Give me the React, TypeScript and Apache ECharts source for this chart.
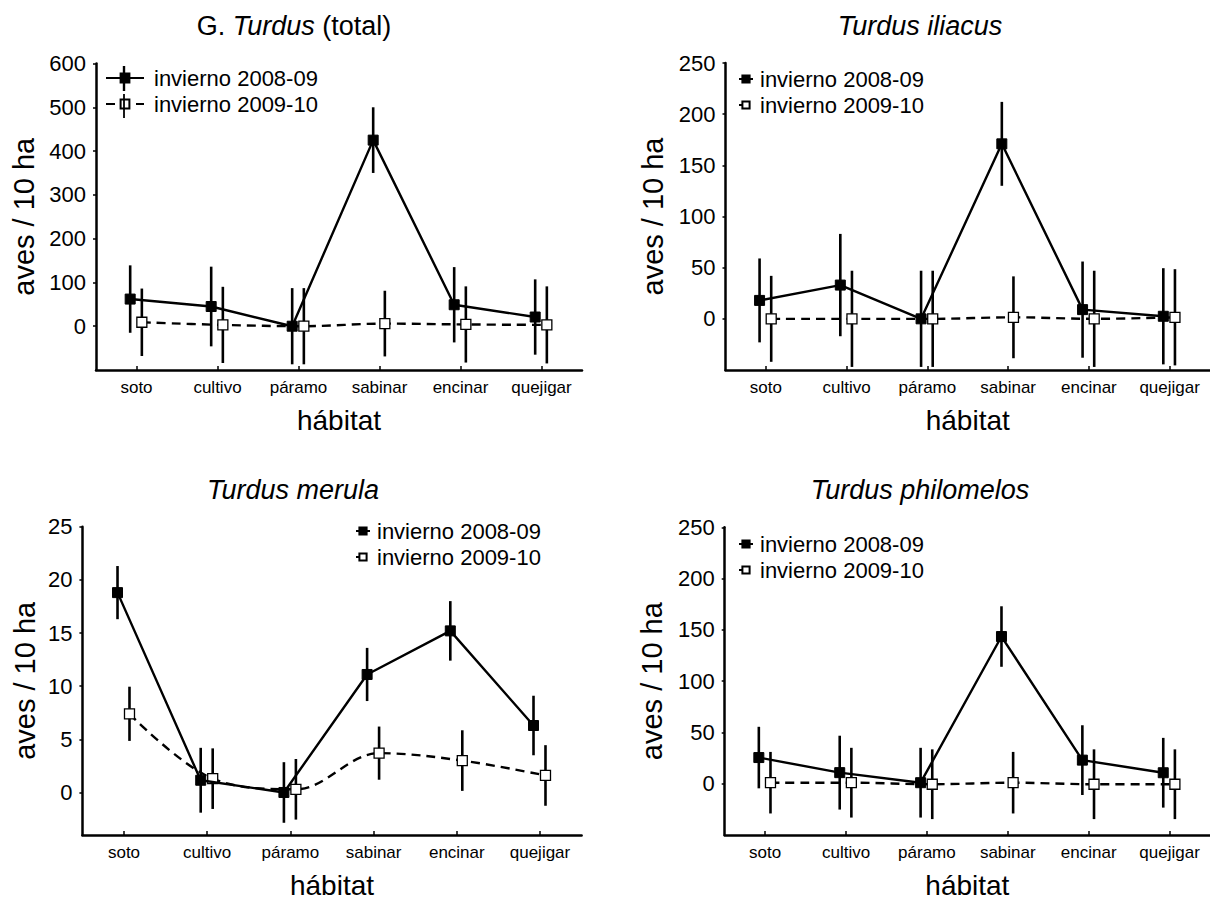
import React, { useEffect, useRef } from "react";
import * as echarts from "echarts";

const CATEGORIES = ["soto", "cultivo", "páramo", "sabinar", "encinar", "quejigar"];
const SERIES_NAMES = ["invierno 2008-09", "invierno 2009-10"];

// G. Turdus (total)
const TOTAL_0809 = [62, 45, 0, 425, 49, 21];
const TOTAL_0809_ERR = [77, 91, 87, 75, 86, 86];
const TOTAL_0910 = [9, 3, 0, 6, 4, 3];
const TOTAL_0910_ERR = [77, 87, 87, 75, 87, 88];

// Turdus iliacus
const ILIACUS_0809 = [18, 33, 0, 171, 9, 2.5];
const ILIACUS_0809_ERR = [41, 50, 47, 41, 47, 47];
const ILIACUS_0910 = [0, 0, 0, 1.5, 0, 1.5];
const ILIACUS_0910_ERR = [42, 47, 47, 40, 47, 47];

// Turdus merula
const MERULA_0809 = [18.8, 1.15, 0, 11.1, 15.2, 6.3];
const MERULA_0809_ERR = [2.5, 3.05, 2.85, 2.5, 2.8, 2.8];
const MERULA_0910 = [7.4, 1.3, 0.3, 3.7, 3.0, 1.6];
const MERULA_0910_ERR = [2.55, 2.85, 2.85, 2.5, 2.85, 2.85];

// Turdus philomelos
const PHILO_0809 = [25.5, 10.8, 1, 143.5, 23, 10.7];
const PHILO_0809_ERR = [30, 36, 34, 29.5, 34, 34];
const PHILO_0910 = [1, 1, -0.5, 1, -0.5, -0.5];
const PHILO_0910_ERR = [30, 34, 34, 30, 34, 34];

const TICKS_TOTAL = [0, 100, 200, 300, 400, 500, 600];
const TICKS_250 = [0, 50, 100, 150, 200, 250];
const TICKS_MERULA = [0, 5, 10, 15, 20, 25];

const FONT = "'Liberation Sans', Arial, Helvetica, sans-serif";

const panels = [
  {
    title: "{a|G. }{b|Turdus}{a| (total)}",
    titleX: 294, titleY: 12,
    grid: { left: 96, top: 63.5, width: 486, height: 306.5 },
    yMin: -100, yMax: 600, ticks: TICKS_TOTAL,
    m1: TOTAL_0809, e1: TOTAL_0809_ERR, m2: TOTAL_0910, e2: TOTAL_0910_ERR,
    nameGap: 58,
    legend: { left: 105, top: 67, itemWidth: 38, itemHeight: 11 },
  },
  {
    title: "{b|Turdus iliacus}",
    titleX: 920, titleY: 12,
    grid: { left: 725.5, top: 63, width: 485, height: 307 },
    yMin: -50, yMax: 250, ticks: TICKS_250,
    m1: ILIACUS_0809, e1: ILIACUS_0809_ERR, m2: ILIACUS_0910, e2: ILIACUS_0910_ERR,
    nameGap: 58,
    legend: { left: 738, top: 68, itemWidth: 14, itemHeight: 9 },
  },
  {
    title: "{b|Turdus merula}",
    titleX: 293, titleY: 476,
    grid: { left: 82.4, top: 526.7, width: 499.2, height: 309.3 },
    yMin: -4, yMax: 25, ticks: TICKS_MERULA,
    m1: MERULA_0809, e1: MERULA_0809_ERR, m2: MERULA_0910, e2: MERULA_0910_ERR,
    nameGap: 43,
    legend: { left: 355, top: 520, itemWidth: 14, itemHeight: 9 },
  },
  {
    title: "{b|Turdus philomelos}",
    titleX: 920, titleY: 476,
    grid: { left: 724.7, top: 527.3, width: 485.3, height: 308.4 },
    yMin: -50, yMax: 250, ticks: TICKS_250,
    m1: PHILO_0809, e1: PHILO_0809_ERR, m2: PHILO_0910, e2: PHILO_0910_ERR,
    nameGap: 58,
    legend: { left: 738, top: 533, itemWidth: 14, itemHeight: 9 },
  },
];

const OFF1 = -0.078;
const OFF2 = 0.066;

function errRender(params: any, api: any) {
  const x = api.value(0);
  const lo = api.value(1);
  const hi = api.value(2);
  const p1 = api.coord([x, lo]);
  const p2 = api.coord([x, hi]);
  return {
    type: "line",
    shape: { x1: p1[0], y1: p1[1], x2: p2[0], y2: p2[1] },
    style: { stroke: "#000", lineWidth: 2.6 },
  };
}

function buildOption() {
  const grid: any[] = [];
  const xAxis: any[] = [];
  const yAxis: any[] = [];
  const series: any[] = [];
  const title: any[] = [];
  const legend: any[] = [];

  panels.forEach((p, gi) => {
    grid.push({ ...p.grid, containLabel: false });
    title.push({
      text: p.title,
      left: p.titleX,
      top: p.titleY,
      textAlign: "center",
      padding: 0,
      textStyle: {
        fontFamily: FONT,
        fontSize: 27,
        fontWeight: "normal",
        color: "#000",
        rich: {
          a: { fontFamily: FONT, fontSize: 27, fontStyle: "normal", color: "#000" },
          b: { fontFamily: FONT, fontSize: 27, fontStyle: "italic", color: "#000" },
        },
      },
    });
    xAxis.push({
      type: "category",
      gridIndex: gi,
      data: CATEGORIES,
      boundaryGap: true,
      name: "hábitat",
      nameLocation: "middle",
      nameGap: 36,
      nameTextStyle: { fontFamily: FONT, fontSize: 28, color: "#000" },
      axisLine: { onZero: false, lineStyle: { color: "#000", width: 2.5 } },
      axisTick: { show: true, inside: true, length: 4, alignWithLabel: true, lineStyle: { color: "#000", width: 1.5 } },
      axisLabel: { fontFamily: FONT, fontSize: 17, color: "#000", margin: 9, interval: 0 },
      splitLine: { show: false },
    });
    xAxis.push({
      type: "value",
      gridIndex: gi,
      min: -0.5,
      max: 5.5,
      show: false,
      axisLine: { onZero: false },
    });
    yAxis.push({
      type: "value",
      gridIndex: gi,
      min: p.yMin,
      max: p.yMax,
      name: "aves / 10 ha",
      nameLocation: "middle",
      nameRotate: 90,
      nameGap: p.nameGap,
      nameTextStyle: { fontFamily: FONT, fontSize: 29, color: "#000" },
      axisLine: { show: true, onZero: false, lineStyle: { color: "#000", width: 2.5 } },
      axisTick: { show: true, length: 3, customValues: p.ticks, lineStyle: { color: "#000", width: 1.5 } },
      axisLabel: { fontFamily: FONT, fontSize: 22, color: "#000", margin: 10, customValues: p.ticks },
      splitLine: { show: false },
    });
    const xIdx = gi * 2 + 1;
    const yIdx = gi;
    const err1 = p.m1.map((m, i) => [i + OFF1, m - p.e1[i], m + p.e1[i]]);
    const err2 = p.m2.map((m, i) => [i + OFF2, m - p.e2[i], m + p.e2[i]]);
    series.push({
      type: "custom",
      name: "err-a-" + gi,
      xAxisIndex: xIdx,
      yAxisIndex: yIdx,
      data: err1,
      encode: { x: 0, y: [1, 2] },
      renderItem: errRender,
      z: 2,
      silent: true,
    });
    series.push({
      type: "custom",
      name: "err-b-" + gi,
      xAxisIndex: xIdx,
      yAxisIndex: yIdx,
      data: err2,
      encode: { x: 0, y: [1, 2] },
      renderItem: errRender,
      z: 2,
      silent: true,
    });
    series.push({
      type: "line",
      name: SERIES_NAMES[0],
      xAxisIndex: xIdx,
      yAxisIndex: yIdx,
      data: p.m1.map((m, i) => [i + OFF1, m]),
      symbol: "rect",
      symbolSize: 10,
      showSymbol: true,
      lineStyle: { color: "#000", width: 2.4, type: "solid" },
      itemStyle: { color: "#000", borderColor: "#000", borderWidth: 1 },
      z: 4,
    });
    series.push({
      type: "line",
      name: SERIES_NAMES[1],
      xAxisIndex: xIdx,
      yAxisIndex: yIdx,
      data: p.m2.map((m, i) => [i + OFF2, m]),
      symbol: "rect",
      symbolSize: 10,
      showSymbol: true,
      smooth: 0.35,
      lineStyle: { color: "#000", width: 2.4, type: [9, 6] },
      itemStyle: { color: "#fff", borderColor: "#000", borderWidth: 1.3 },
      z: 3,
    });
    legend.push({
      data: SERIES_NAMES,
      orient: "vertical",
      left: p.legend.left,
      top: p.legend.top,
      itemWidth: p.legend.itemWidth,
      itemHeight: p.legend.itemHeight,
      itemGap: 4,
      padding: 0,
      selectedMode: false,
      textStyle: { fontFamily: FONT, fontSize: 22, color: "#000", padding: [0, 0, 0, gi === 0 ? 5 : 2] },
    });
  });

  const graphic = [
    { type: "line", shape: { x1: 124, y1: 66, x2: 124, y2: 91 }, style: { stroke: "#000", lineWidth: 2.4 }, z: 100 },
    { type: "line", shape: { x1: 124, y1: 94, x2: 124, y2: 118 }, style: { stroke: "#000", lineWidth: 1.8 }, z: 100 },
  ];

  return {
    animation: false,
    backgroundColor: "#fff",
    textStyle: { fontFamily: FONT },
    title,
    grid,
    xAxis,
    yAxis,
    series,
    legend,
    graphic,
  };
}

export default function App() {
  const ref = useRef<HTMLDivElement>(null);
  useEffect(() => {
    if (!ref.current) return;
    const chart = echarts.init(ref.current, undefined, { renderer: "svg" });
    chart.setOption(buildOption() as any);
    return () => chart.dispose();
  }, []);
  return (
    <div
      ref={ref}
      style={{ position: "absolute", left: 0, top: 0, width: 1210, height: 900, background: "#fff" }}
    />
  );
}
